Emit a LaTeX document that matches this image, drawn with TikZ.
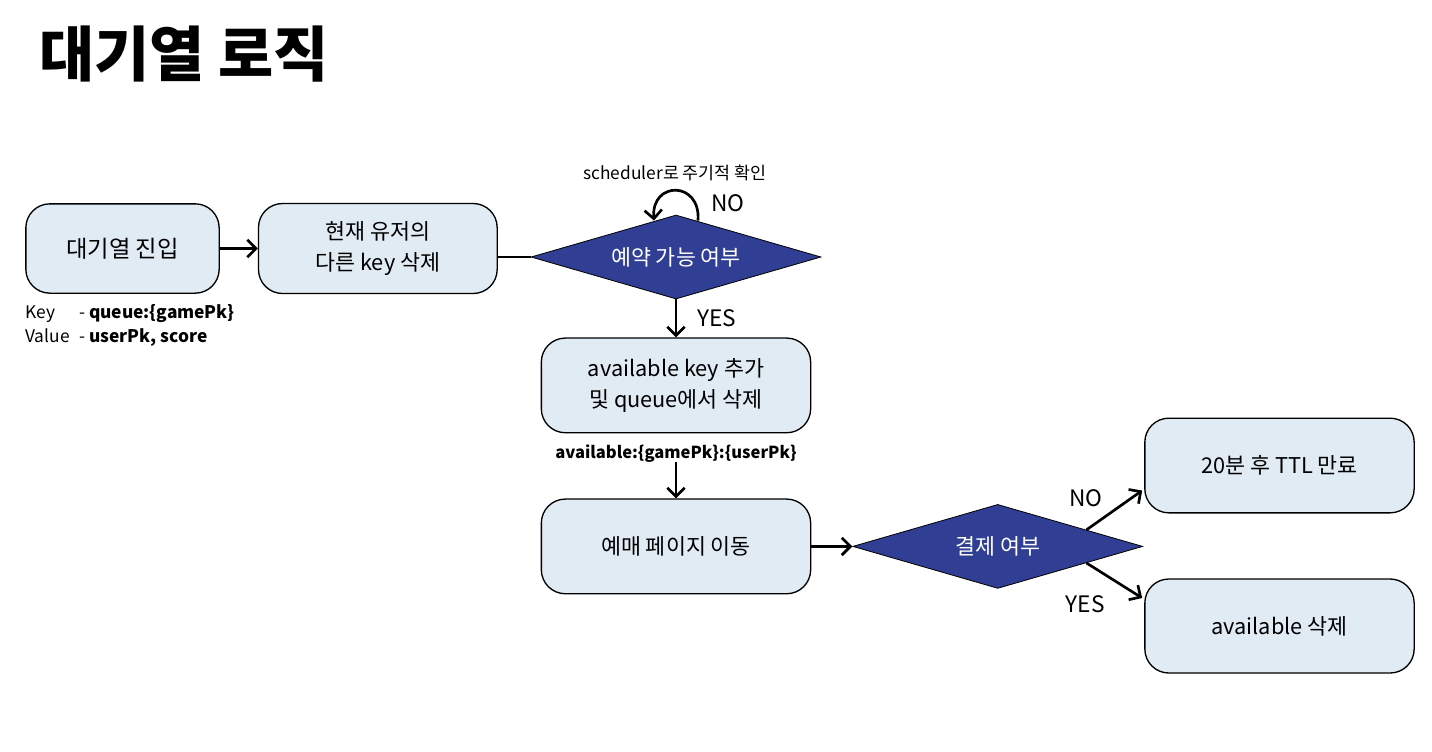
\documentclass[tikz,border=0pt]{standalone}
\usepackage{fontspec}
\setmainfont{Noto Sans CJK KR}
\usetikzlibrary{arrows.meta,positioning,calc,shapes.geometric}
\definecolor{sangjasaek}{HTML}{E1EBF3}
\definecolor{pandansaek}{HTML}{303F93}
\tikzset{
  sangja/.style={draw,line width=1pt,rounded corners=18pt,fill=sangjasaek,align=center,
                 inner sep=4pt,font=\fontsize{16.3}{23.5}\selectfont},
  pandan/.style={diamond,draw,line width=0.6pt,fill=pandansaek,text=white,inner sep=0pt,aspect=3.45,
                 minimum width=217.5pt,minimum height=63pt,font=\fontsize{16.3}{18}\selectfont},
  hwasal/.style={-{Straight Barb[length=6.5pt,width=13pt]},line width=2pt},
  seon/.style={line width=2pt},
  gulja/.style={inner sep=0pt,font=\fontsize{17}{19}\selectfont},
  jageun/.style={inner sep=0pt,font=\fontsize{13}{15}\selectfont},
}

\begin{document}
\begin{tikzpicture}[x=0.75pt,y=-0.75pt]
  \useasboundingbox (0,0) rectangle (1432,751);
  \node[anchor=west,inner sep=0pt,font=\fontsize{45}{48}\selectfont\bfseries] (cim) at (39,54) {대기열 로직};

  % 대기열 진입 흐름
  \node[sangja,minimum width=145pt,minimum height=67pt,font=\fontsize{17.5}{19}\selectfont] (a) at (122.5,248.5) {대기열 진입};
  \node[sangja,minimum width=179pt,minimum height=67.5pt,right=28.5pt of a] (b) {현재 유저의\\다른 key 삭제};
  \node[pandan] (d1) at (676,257) {예약 가능 여부};
  \node[sangja,minimum width=202pt,minimum height=71pt,below=28.5pt of d1] (c) {available key 추가\\및 queue에서 삭제};
  \node[jageun,font=\fontsize{12.4}{13}\selectfont\bfseries,below=8pt of c] (avl) {available:\{gamePk\}:\{userPk\}};
  \node[sangja,minimum width=202pt,minimum height=71pt,below=48.75pt of c] (d) {예매 페이지 이동};
  \node[pandan] (d2) [right=30.75pt of d] {결제 여부};
  \node[sangja,minimum width=202pt,minimum height=71pt] (e) at (1279.5,465.5) {20분 후 TTL 만료};
  \node[sangja,minimum width=202pt,minimum height=70.5pt] (f) at (1279.5,626) {available 삭제};

  % 키 설명
  \node[anchor=north west,inner sep=0pt,font=\fontsize{13}{18}\selectfont] (kv) at ($(a.south west)+(0,8)$)
    {\begin{tabular}{@{}l@{\hspace{7pt}}l@{}}Key & - \textbf{queue:\{gamePk\}}\\Value & - \textbf{userPk, score}\end{tabular}};

  \draw[hwasal] (a) -- (b);
  \draw[seon] (b.east |- d1.west) -- (d1.west);
  \draw[hwasal] ($(d1.north)+(22,6)$) .. controls +(3,-40) and +(-3,-40) .. ($(d1.north)+(-22,6)$);
  \node[jageun] (sch) at ($(d1.north)+(-1,-42)$) {scheduler로 주기적 확인};
  \node[gulja] (no1) at ($(d1.north)+(52,-11)$) {NO};
  \draw[hwasal] (d1.south) -- node[gulja,right=15pt] {YES} (d1.south |- c.north);
  \draw[hwasal] (avl) -- (d);
  \draw[hwasal] (d) -- (d2);
  \draw[hwasal] ($(d2.north)!0.61!(d2.east)$) -- ($(e.west)+(-2,25)$);
  \draw[hwasal] ($(d2.south)!0.61!(d2.east)$) -- ($(f.west)+(-2,-28)$);
  \node[gulja] (no2) at ($(d2.east)+(-57,-48)$) {NO};
  \node[gulja] (yes2) at ($(d2.east)+(-58,58)$) {YES};
\end{tikzpicture}
\end{document}
